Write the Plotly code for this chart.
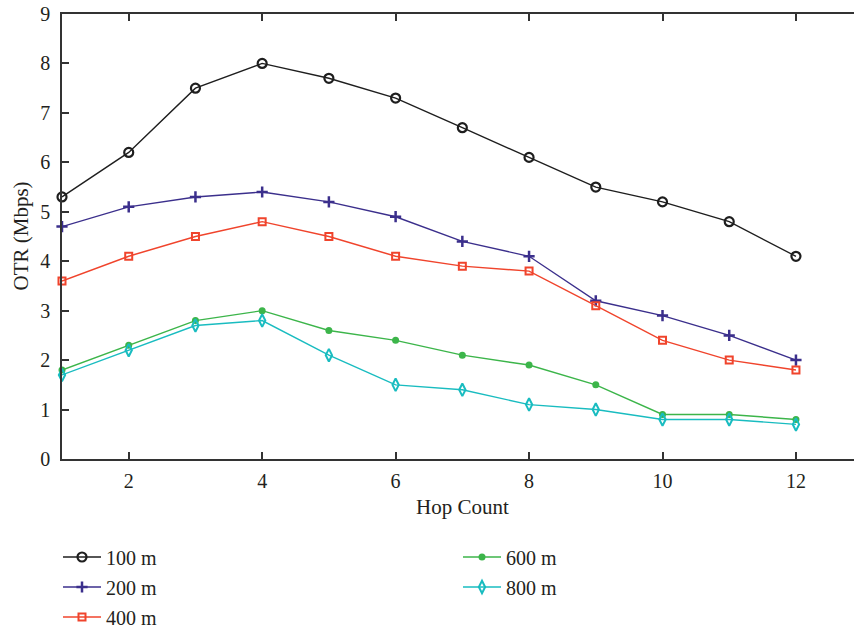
import plotly.graph_objects as go

hops = [1, 2, 3, 4, 5, 6, 7, 8, 9, 10, 11, 12]
otr_100 = [5.3, 6.2, 7.5, 8.0, 7.7, 7.3, 6.7, 6.1, 5.5, 5.2, 4.8, 4.1]
otr_200 = [4.7, 5.1, 5.3, 5.4, 5.2, 4.9, 4.4, 4.1, 3.2, 2.9, 2.5, 2.0]
otr_400 = [3.6, 4.1, 4.5, 4.8, 4.5, 4.1, 3.9, 3.8, 3.1, 2.4, 2.0, 1.8]
otr_600 = [1.8, 2.3, 2.8, 3.0, 2.6, 2.4, 2.1, 1.9, 1.5, 0.9, 0.9, 0.8]
otr_800 = [1.7, 2.2, 2.7, 2.8, 2.1, 1.5, 1.4, 1.1, 1.0, 0.8, 0.8, 0.7]
series_names = ["100 m", "200 m", "400 m", "600 m", "800 m"]
x_ticks = [2, 4, 6, 8, 10, 12]
y_ticks = [0, 1, 2, 3, 4, 5, 6, 7, 8, 9]

FONT = "Liberation Serif"
TXT = "#231f20"
W, H = 854, 631

styles = [
    dict(line="#1e1e1e", marker=dict(symbol="circle-open", size=9, color="#1e1e1e", line=dict(width=2.2, color="#1e1e1e"))),
    dict(line="#3b2f8c", marker=dict(symbol="cross-thin", size=8, color="#3b2f8c", line=dict(width=2.5, color="#3b2f8c"))),
    dict(line="#f0442c", marker=dict(symbol="square-open", size=7, color="#f0442c", line=dict(width=2, color="#f0442c"))),
    dict(line="#3cb54a", marker=dict(symbol="circle", size=7, color="#3cb54a", line=dict(width=0))),
    dict(line="#19bcc0", marker=dict(symbol="diamond-tall-open", size=9, color="#19bcc0", line=dict(width=2, color="#19bcc0"))),
]
data = [otr_100, otr_200, otr_400, otr_600, otr_800]
legend_ids = ["legend", "legend2", "legend3", "legend4", "legend5"]
legend_pos = [(58, 557), (58, 587), (58, 617), (458, 557), (458, 587)]

fig = go.Figure()
for name, vals, st, lid in zip(series_names, data, styles, legend_ids):
    fig.add_trace(go.Scatter(
        x=hops, y=vals, name=name, mode="lines+markers",
        line=dict(color=st["line"], width=1.4),
        marker=st["marker"], legend=lid, cliponaxis=False,
    ))

layout_legends = {}
for lid, (px, py) in zip(legend_ids, legend_pos):
    layout_legends[lid] = dict(
        x=px / W, y=1 - py / H, xref="container", yref="container",
        xanchor="left", yanchor="middle", itemwidth=38,
        font=dict(family=FONT, size=20, color=TXT),
        bgcolor="rgba(0,0,0,0)",
    )

fig.update_layout(
    width=W, height=H,
    paper_bgcolor="white", plot_bgcolor="white",
    margin=dict(l=62, r=0, t=14, b=631 - 459, autoexpand=False),
    font=dict(family=FONT, size=20, color=TXT),
    showlegend=True,
    annotations=[
        dict(text="Hop Count", xref="paper", yref="paper", x=0.506, y=0, yshift=-48,
             xanchor="center", yanchor="middle", showarrow=False,
             font=dict(family=FONT, size=21, color=TXT)),
        dict(text="OTR (Mbps)", xref="paper", yref="paper", x=0, y=0.5, xshift=-42,
             xanchor="center", yanchor="middle", textangle=-90, showarrow=False,
             font=dict(family=FONT, size=21, color=TXT)),
    ],
    **layout_legends,
)
fig.update_xaxes(
    range=[1, 12.87], tickvals=x_ticks, ticks="inside", ticklen=7, tickwidth=1.5,
    tickcolor="#333", showline=True, linecolor="#333", linewidth=1.5, mirror="ticks",
    showgrid=False, zeroline=False, ticklabelstandoff=3,
)
fig.update_yaxes(
    range=[0, 9], tickvals=y_ticks, ticks="inside", ticklen=7, tickwidth=1.5,
    tickcolor="#333", showline=True, linecolor="#333", linewidth=1.5,
    showgrid=False, zeroline=False, ticklabelstandoff=6,
)
fig.write_html(
    "out.html",
    config={"displayModeBar": False},
    post_script="document.body.style.margin='0';document.body.style.overflow='hidden';",
)
